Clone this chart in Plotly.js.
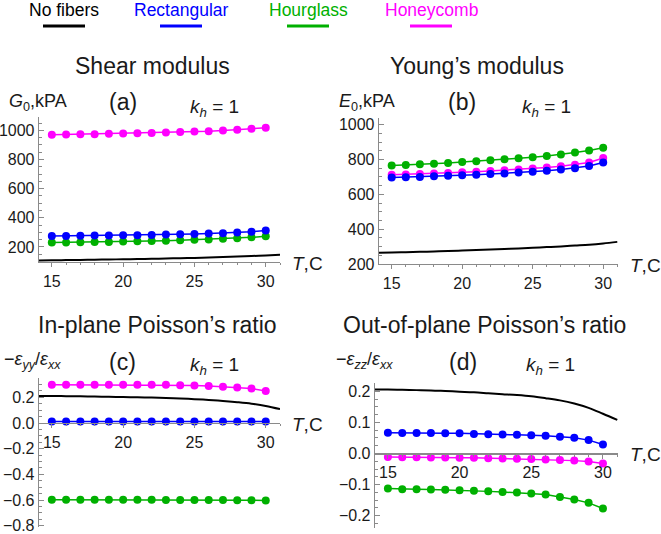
<!DOCTYPE html>
<html>
<head>
<meta charset="utf-8">
<script src="https://cdn.plot.ly/plotly-3.0.1.min.js"></script>
<style>html,body{margin:0;padding:0;background:#fff;}#chart{width:661px;height:534px;}</style>
</head>
<body>
<div id="chart"></div>
<script>
// ---- data ----
const seriesNames = ["No fibers", "Rectangular", "Hourglass", "Honeycomb"];
const T_dots = [15,16,17,18,19,20,21,22,23,24,25,26,27,28,29,30];
const T_curve = [14.1,15,16,17,18,19,20,21,22,23,24,25,26,27,28,29,30,31];

// (a) Shear modulus G0, kPA
const G_noFibers = [108,109,110,111,113,114,116,117,119,121,123,125,128,131,134,138,142,147];
const G_rect = [275,276,277,278,279,280,281,283,285,287,289,292,295,299,305,314];
const G_hour = [230,231,233,234,235,237,239,241,243,246,249,252,256,260,266,273];
const G_honey = [970,972,973,974,977,978,981,982,986,989,993,995,1000,1005,1011,1018];

// (b) Young's modulus E0, kPA
const E_noFibers = [265,266,268,270,272,274,277,280,283,286,289,293,297,301,306,311,318,327];
const E_rect = [696,698,700,703,706,709,712,716,720,725,730,735,742,750,762,783];
const E_hour = [765,768,772,776,780,785,790,795,801,807,813,820,829,840,852,867];
const E_honey = [712,714,717,720,723,726,730,734,738,743,748,754,761,770,783,808];

// (c) In-plane Poisson's ratio
const Pin_noFibers = [0.210,0.210,0.209,0.208,0.206,0.204,0.202,0.200,0.198,0.195,0.191,0.186,0.180,0.172,0.162,0.150,0.133,0.108];
const Pin_rect = [0.012,0.012,0.012,0.012,0.012,0.012,0.012,0.012,0.012,0.012,0.012,0.012,0.012,0.012,0.011,0.011];
const Pin_hour = [-0.597,-0.597,-0.597,-0.597,-0.598,-0.598,-0.598,-0.598,-0.599,-0.599,-0.599,-0.600,-0.600,-0.601,-0.602,-0.604];
const Pin_honey = [0.297,0.297,0.297,0.297,0.297,0.297,0.297,0.297,0.297,0.295,0.292,0.288,0.283,0.277,0.268,0.249];

// (d) Out-of-plane Poisson's ratio
const Pout_noFibers = [0.206,0.206,0.205,0.204,0.203,0.201,0.199,0.197,0.194,0.191,0.188,0.184,0.178,0.171,0.161,0.147,0.128,0.108];
const Pout_rect = [0.067,0.066,0.066,0.066,0.065,0.065,0.063,0.062,0.061,0.060,0.059,0.057,0.054,0.051,0.043,0.029];
const Pout_hour = [-0.113,-0.115,-0.115,-0.116,-0.117,-0.118,-0.120,-0.122,-0.124,-0.126,-0.129,-0.132,-0.140,-0.148,-0.159,-0.177];
const Pout_honey = [-0.011,-0.012,-0.012,-0.013,-0.013,-0.014,-0.014,-0.015,-0.016,-0.017,-0.018,-0.019,-0.021,-0.023,-0.026,-0.032];

const xTicks = [15,20,25,30];
const yTicksA = [200,400,600,800,1000];
const yTicksB = [200,400,600,800,1000];
const yTicksC = [-0.8,-0.6,-0.4,-0.2,0,0.2];
const yTicksD = [-0.2,-0.1,0,0.1,0.2];
const panelTitles = ["Shear modulus", "Young\u2019s modulus", "In-plane Poisson\u2019s ratio", "Out-of-plane Poisson\u2019s ratio"];

// ---- style ----
const colors = ["#000000", "#0000ff", "#00b000", "#ff00ff"];
const W = 661, H = 534;
const FONT = "Liberation Sans, Arial, sans-serif";
const TXT = "#1a1a1a";
const AX = "#8a8a8a";
const px = v => v / W;
const py = v => 1 - v / H;

const panels = [
  {x:"x", y:"y", curve:G_noFibers, dots:[G_rect,G_hour,G_honey]},
  {x:"x2", y:"y2", curve:E_noFibers, dots:[E_rect,E_hour,E_honey]},
  {x:"x3", y:"y3", curve:Pin_noFibers, dots:[Pin_rect,Pin_hour,Pin_honey]},
  {x:"x4", y:"y4", curve:Pout_noFibers, dots:[Pout_rect,Pout_hour,Pout_honey]}
];

const traces = [];
panels.forEach(p => {
  traces.push({x:T_curve, y:p.curve, xaxis:p.x, yaxis:p.y, mode:"lines", line:{color:colors[0], width:2, shape:"spline"}, showlegend:false, name:seriesNames[0], cliponaxis:false});
  [1,2,0].forEach(k => {
    traces.push({x:T_dots, y:p.dots[k], xaxis:p.x, yaxis:p.y, mode:"lines+markers", cliponaxis:false,
      line:{color:colors[k+1], width:1.5}, marker:{color:colors[k+1], size:8}, showlegend:false, name:seriesNames[k+1]});
  });
});

function xa(domain, range, extra) {
  return Object.assign({domain:domain, range:range, showline:true, linecolor:AX, linewidth:1.3,
    ticks:"outside", ticklen:4, tickcolor:AX, tickmode:"array", tickvals:xTicks, ticktext:xTicks.map(String),
    showgrid:false, zeroline:false, ticklabeloverflow:"allow",
    tickfont:{family:FONT, size:16, color:TXT},
    minor:{ticks:"outside", ticklen:2, tickcolor:AX, dtick:1, showgrid:false}}, extra);
}
function ya(domain, range, tv, fmt, mdt, extra) {
  const tt = tv.map(v => (v < 0 ? "\u2212" : "") + (fmt === "d" ? String(Math.abs(v)) : Math.abs(v).toFixed(1)));
  return Object.assign({domain:domain, range:range, showline:true, linecolor:AX, linewidth:1.3,
    ticks:"inside", ticklen:5, tickcolor:AX, tickmode:"array", tickvals:tv, ticktext:tt,
    showgrid:false, zeroline:false, ticklabeloverflow:"allow",
    tickfont:{family:FONT, size:16, color:TXT},
    minor:{ticks:"inside", ticklen:3, tickcolor:AX, dtick:mdt, showgrid:false}}, extra);
}

const yd3 = [0.0131, 0.292], yr3 = [-0.81, 0.35];
const yd4 = [0.0112, 0.2828], yr4 = [-0.24, 0.227];
const pos3 = yd3[0] + (0 - yr3[0]) / (yr3[1] - yr3[0]) * (yd3[1] - yd3[0]);
const pos4 = yd4[0] + (0 - yr4[0]) / (yr4[1] - yr4[0]) * (yd4[1] - yd4[0]);

const layout = {
  width:W, height:H, margin:{l:0,r:0,t:0,b:0}, paper_bgcolor:"#fff", plot_bgcolor:"rgba(0,0,0,0)",
  showlegend:false,
  xaxis: xa([px(39), px(280)], [14.1, 31], {anchor:"y"}),
  yaxis: ya([py(262), py(117)], [97, 1092], yTicksA, "d", 50, {anchor:"x"}),
  xaxis2: xa([px(379), px(618)], [14.1, 31.05], {anchor:"y2"}),
  yaxis2: ya([py(264), py(118)], [200, 1038], yTicksB, "d", 50, {anchor:"x2"}),
  xaxis3: xa([px(39), px(280)], [14.1, 31], {anchor:"free", position:pos3}),
  yaxis3: ya(yd3, yr3, yTicksC, ".1f", 0.05, {anchor:"x3"}),
  xaxis4: xa([px(375), px(618)], [14.1, 31.05], {anchor:"free", position:pos4}),
  yaxis4: ya(yd4, yr4, yTicksD, ".1f", 0.025, {anchor:"x4"}),
  annotations: [],
  shapes: []
};

function ann(text, x, y, size, opts) {
  layout.annotations.push(Object.assign({text:text, xref:"paper", yref:"paper", x:px(x), y:py(y),
    showarrow:false, xanchor:"center", yanchor:"middle", font:{family:FONT, size:size, color:TXT}}, opts||{}));
}

// legend
const legX = [64, 181, 308, 431];
seriesNames.forEach((n, i) => {
  ann(n, legX[i], 10, 17.5, {font:{family:FONT, size:17.5, color:colors[i]}});
  layout.shapes.push({type:"line", xref:"paper", yref:"paper", x0:px(legX[i]-21), x1:px(legX[i]+21), y0:py(26), y1:py(26), line:{color:colors[i], width:3}});
});

// panel titles
ann(panelTitles[0], 152, 66, 23);
ann(panelTitles[1], 477, 66, 23);
ann(panelTitles[2], 157, 325, 23);
ann(panelTitles[3], 485, 325, 23);

// y labels
ann("<i>G</i><sub>0</sub>,kPA", 7, 102, 18, {xanchor:"left"});
ann("<i>E</i><sub>0</sub>,kPA", 337, 102, 18, {xanchor:"left"});
ann("\u2212<i>\u03b5</i><sub><i>yy</i></sub>/<i>\u03b5</i><sub><i>xx</i></sub>", 2, 360, 18, {xanchor:"left"});
ann("\u2212<i>\u03b5</i><sub><i>zz</i></sub>/<i>\u03b5</i><sub><i>xx</i></sub>", 334, 360, 18, {xanchor:"left"});

// panel letters
ann("(a)", 123, 102, 23);
ann("(b)", 462, 102, 23);
ann("(c)", 123, 362, 23);
ann("(d)", 463, 362, 23);

// k_h = 1
const kh = "<i>k</i><sub><i>h</i></sub> = 1";
ann(kh, 188, 108, 19, {xanchor:"left"});
ann(kh, 520, 108, 19, {xanchor:"left"});
ann(kh, 188, 366, 19, {xanchor:"left"});
ann(kh, 524, 366, 19, {xanchor:"left"});

// T,C
const tc = "<i>T</i>,C";
ann(tc, 290, 263, 19, {xanchor:"left"});
ann(tc, 628, 265, 19, {xanchor:"left"});
ann(tc, 290, 424, 19, {xanchor:"left"});
ann(tc, 628, 454, 19, {xanchor:"left"});

Plotly.newPlot("chart", traces, layout, {staticPlot:true, displayModeBar:false});
</script>
</body>
</html>
